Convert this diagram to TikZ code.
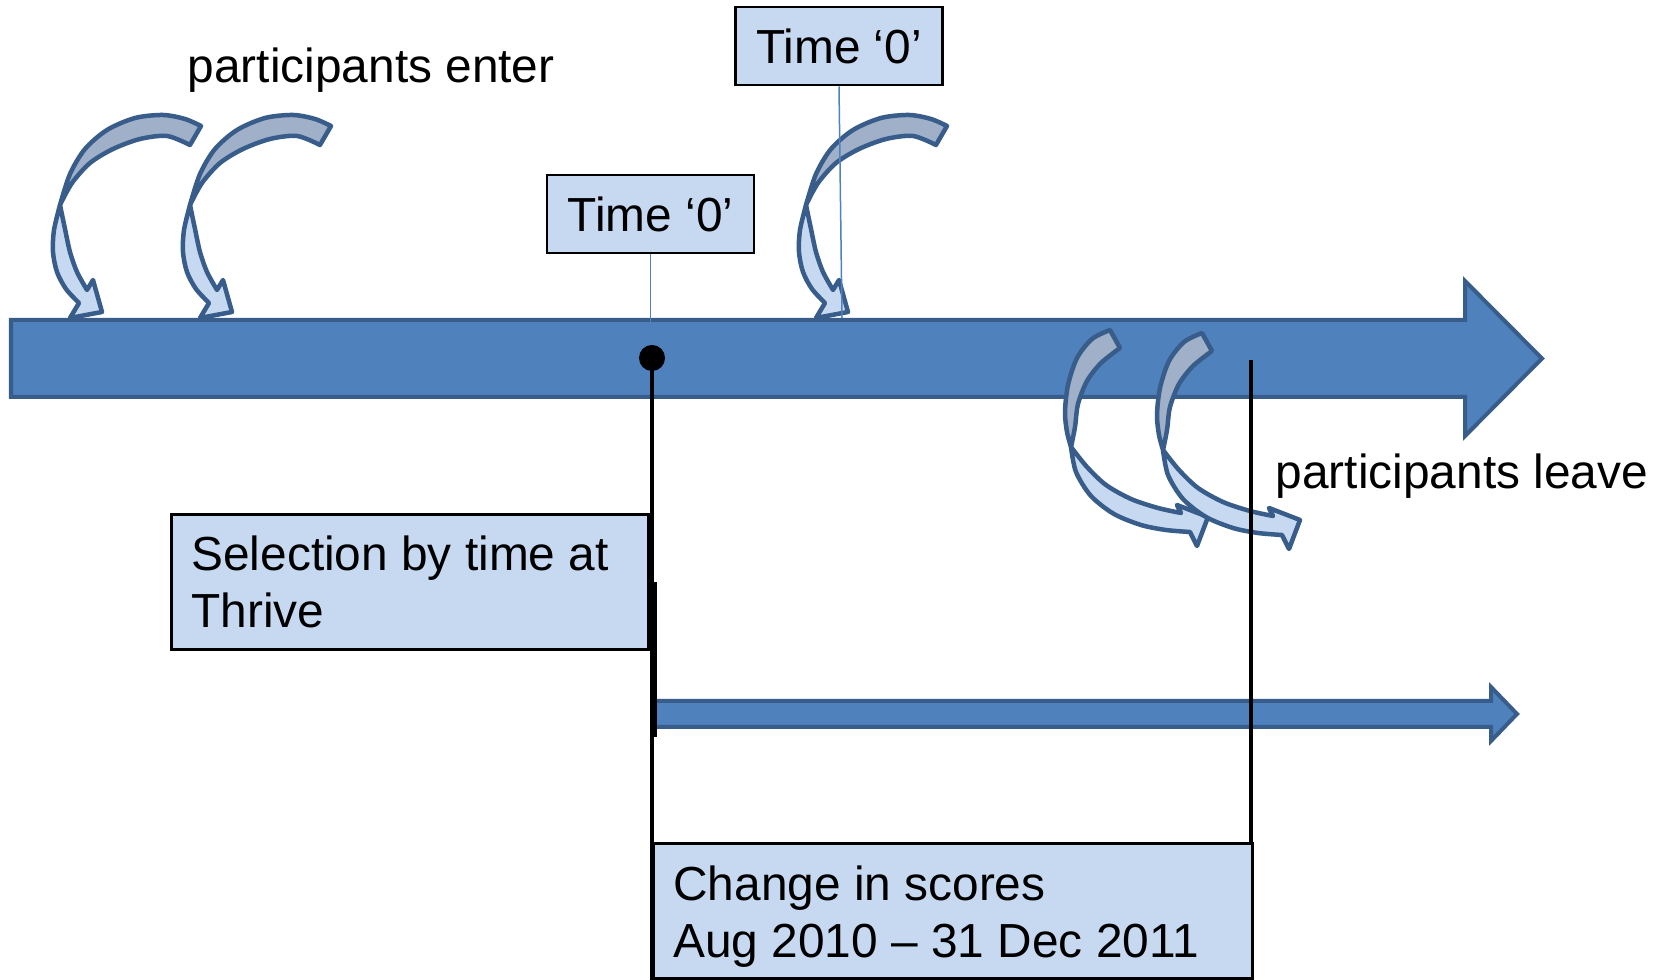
\documentclass[tikz,border=0pt]{standalone}
\usepackage{fontspec}
\setmainfont{Liberation Sans}
\usepackage{xcolor}
\definecolor{mainblue}{HTML}{4F81BD}
\definecolor{edgeblue}{HTML}{385D8A}
\definecolor{boxblue}{HTML}{C6D9F1}
\definecolor{backgray}{HTML}{9FB0C8}

\begin{document}
\begin{tikzpicture}[
    x=0.01cm, y=0.01cm,
    band/.style={draw=edgeblue, line width=0.04cm, fill=mainblue},
    tail/.style={draw=edgeblue, line width=0.045cm, fill=backgray, line join=round},
    front/.style={draw=edgeblue, line width=0.045cm, fill=boxblue, line join=round},
    timebox/.style={draw=black, line width=0.028cm, fill=boxblue,
        minimum width=2.07cm, minimum height=0.78cm, inner sep=0pt},
    infobox/.style={draw=black, line width=0.028cm, fill=boxblue, align=flush left,
        anchor=north west, inner xsep=0.2cm, inner ysep=0pt, minimum height=1.35cm},
    stopline/.style={line width=0.035cm, black},
    linkline/.style={line width=0.015cm, mainblue},
    every node/.style={font=\fontsize{13.6}{16.2}\selectfont}
    ]
    \fill[white] (0,0) rectangle (1672,-980);
    \useasboundingbox (0,0) rectangle (1672,-980);
    % Time lines
    \filldraw[band] (11,-320) -- (1465,-320) -- (1465,-281) -- (1542,-358.5)
        -- (1465,-436) -- (1465,-397) -- (11,-397) -- cycle;
    \filldraw[band] (654,-701) -- (1491,-701) -- (1491,-687) -- (1517,-714)
        -- (1491,-741) -- (1491,-727) -- (654,-727) -- cycle;
    % Participants coming in
    \foreach \dx in {0,130,746}{
      \begin{scope}[shift={(\dx,0)}]
        \filldraw[tail] plot[smooth] coordinates {(201,-126) (185,-119) (163,-115)
            (135,-118) (107,-130) (85,-149) (70,-174) (60,-205)}
          -- plot[smooth] coordinates {(60,-205) (72,-183) (90,-163) (113,-149)
            (140,-139) (167,-136) (190,-145)} -- cycle;
        \filldraw[front] plot[smooth] coordinates {(60,-205) (54,-230) (53,-252)
            (57,-272) (66,-289) (79,-303)}
          -- (70,-318) -- (102,-312) -- (93,-280) -- (87,-290)
          -- plot[smooth] coordinates {(87,-290) (77,-272) (70,-252) (65,-229)
            (60,-205)} -- cycle;
      \end{scope}
    }
    % Participants going out
    \foreach \dx/\dy in {0/0, 92/-3}{
      \begin{scope}[shift={(\dx,\dy)}]
        \filldraw[tail] plot[smooth] coordinates {(1110,-330) (1092,-339) (1077,-358)
            (1068,-385) (1065,-412) (1067,-432) (1071,-447)}
          -- plot[smooth] coordinates {(1071,-447) (1075,-427) (1078,-404)
            (1087,-381) (1101,-363) (1120,-348)} -- cycle;
        \filldraw[front] plot[smooth] coordinates {(1071,-447) (1076,-472) (1091,-496)
            (1114,-514) (1141,-525) (1166,-530) (1190,-532)}
          -- (1197,-546) -- (1208,-517) -- (1177,-505) -- (1181,-513)
          -- plot[smooth] coordinates {(1181,-513) (1158,-508) (1131,-499)
            (1106,-485) (1087,-467) (1071,-447)} -- cycle;
      \end{scope}
    }
    % Start point and limits
    \node[circle, fill=black, minimum size=0.26cm, inner sep=0pt] (start) at (652,-358) {};
    \coordinate (startfoot) at (652,-980);
    \coordinate (endtop) at (1251,-360);
    \coordinate (endfoot) at (1251,-980);
    \coordinate (gaptop) at (655,-582);
    \coordinate (gapfoot) at (655,-737);
    \draw[stopline] (start.center) -- (startfoot);
    \draw[stopline] (endtop) -- (endfoot);
    \draw[stopline] (gaptop) -- (gapfoot);
    % Boxes
    \node[timebox] (zeroA) at (650.5,-214) {Time ‘0’};
    \node[timebox] (zeroB) at (839,-46) {Time ‘0’};
    \node[infobox, text width=4.37cm] (select) at (170,-513)
        {Selection by time at\\Thrive};
    \node[infobox, text width=5.59cm] (change) at (652,-842)
        {\rule{0pt}{0.46cm}Change in scores\\Aug 2010 – 31 Dec 2011};
    \coordinate (zeroAfoot) at (650.5,-324);
    \coordinate (zeroBfoot) at (842,-318);
    \draw[linkline] (zeroA.south) -- (zeroAfoot);
    \draw[linkline] (zeroB.south) -- (zeroBfoot);
    % Labels
    \node[anchor=base west, inner sep=0pt] (enter) at (187,-83) {participants enter};
    \node[anchor=base west, inner sep=0pt] (leave) at (1275,-489) {participants leave};
\end{tikzpicture}
\end{document}
